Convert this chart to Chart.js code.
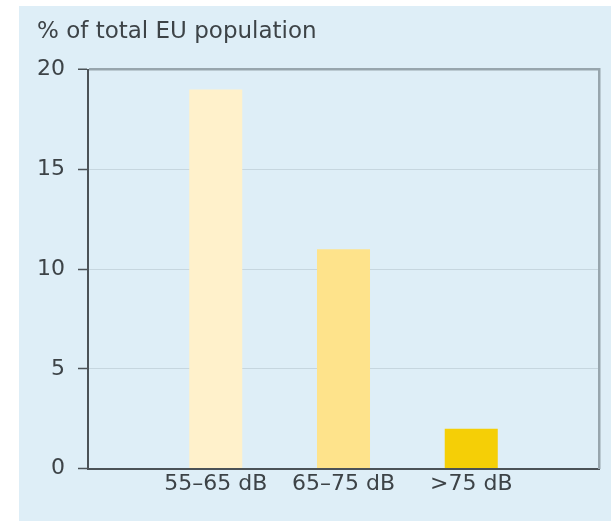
<!DOCTYPE html>
<html>
<head>
<meta charset="utf-8">
<script src="https://cdn.jsdelivr.net/npm/chart.js@4.4.1/dist/chart.umd.min.js"></script>
<style>
    body { margin: 0; background: #ffffff; }
    #panel {
        position: absolute;
        left: 19px;
        top: 6px;
        width: 592px;
        height: 515px;
        background: #deeef7;
    }
</style>
</head>
<body>
<div id="panel">
    <canvas id="noiseChart" width="592" height="515"></canvas>
</div>
<script>
// data
const categories = ["55–65 dB", "65–75 dB", ">75 dB"];
const shareOfPopulation = [19, 11, 2];
const barColors = ["#fff1cb", "#fee38b", "#f5cf06"];
const yTicks = [0, 5, 10, 15, 20];

const textColor = "#3d4347";
const axisColor = "#4b5257";
const frameColor = "#97a5ad";

// empty slots at both ends so the three bars sit at 1/4, 1/2, 3/4 of the axis
const labels = ["", ...categories, ""];
const values = [null, ...shareOfPopulation, null];
const colors = ["transparent", ...barColors, "transparent"];

const config = {
    type: "bar",
    data: {
        labels: labels,
        datasets: [
            {
                data: values,
                backgroundColor: colors,
                borderWidth: 0,
                categoryPercentage: 1,
                barPercentage: 0.415,
            },
        ],
    },
    options: {
        responsive: false,
        animation: false,
        layout: {
            padding: { left: 18, right: 12, top: 0, bottom: 22 },
        },
        plugins: {
            legend: { display: false },
            tooltip: { enabled: false },
            title: {
                display: true,
                text: "% of total EU population",
                align: "start",
                color: textColor,
                font: { family: "DejaVu Sans", size: 23, weight: "normal" },
                padding: { top: 12, bottom: 24 },
            },
        },
        scales: {
            x: {
                offset: false,
                grid: { display: false, drawTicks: false },
                border: { display: true, color: axisColor, width: 2 },
                ticks: {
                    color: textColor,
                    padding: 2,
                    maxRotation: 0,
                    autoSkip: false,
                    font: { family: "DejaVu Sans", size: 22 },
                },
            },
            y: {
                min: 0,
                max: 20,
                afterBuildTicks: (scale) => {
                    scale.ticks = yTicks.map(v => ({ value: v }));
                },
                afterFit: (scale) => {
                    scale.width = 51;
                },
                grid: {
                    color: (ctx) => ctx.tick && ctx.tick.value === 20 ? frameColor : "#c6d6df",
                    lineWidth: (ctx) => ctx.tick && ctx.tick.value === 20 ? 2.5 : 1,
                    tickColor: axisColor,
                    tickLength: 10,
                    tickWidth: 1.5,
                },
                border: { display: true, color: axisColor, width: 2 },
                ticks: {
                    color: textColor,
                    padding: 13,
                    font: { family: "DejaVu Sans", size: 22 },
                },
            },
            yRight: {
                position: "right",
                min: 0,
                max: 20,
                grid: { display: false, drawTicks: false },
                border: { display: true, color: frameColor, width: 2.5 },
                ticks: { display: false },
            },
        },
    },
};

const noiseChart = new Chart(document.getElementById("noiseChart"), config);
</script>
</body>
</html>
